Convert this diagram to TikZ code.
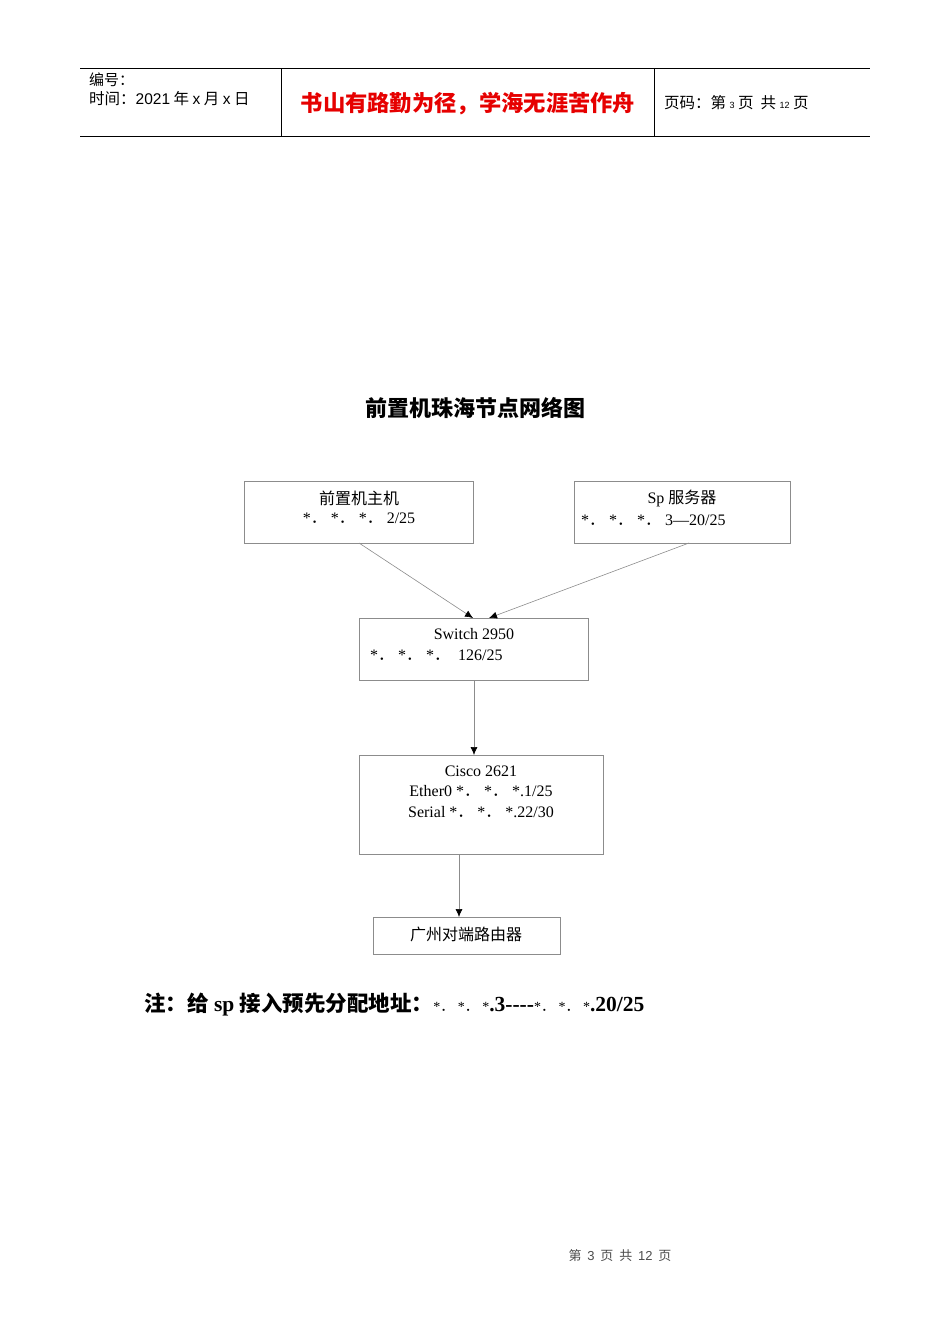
\documentclass[tikz,border=0pt]{standalone}
\usepackage{fontspec}
\usetikzlibrary{arrows.meta}
\setmainfont{Liberation Serif}
\newfontfamily\cjk{Noto Sans CJK SC}
\newfontfamily\hsans{Liberation Sans}
\newcommand{\fdot}{{\cjk ．}}
\begin{document}
\begin{tikzpicture}[x=1pt,y=-1pt,
  bx/.style={draw=black!45,line width=0.6pt},
  ar/.style={draw=black!45,line width=0.6pt,-{Latex[length=8pt,width=7pt,black]}},
  t/.style={inner sep=0pt,font=\fontsize{16}{18}\selectfont}]
\useasboundingbox[fill=white] (0,0) rectangle (950,1344);
% header
\draw[line width=0.6pt] (80,68) -- (870,68) (80,136) -- (870,136) (281,68) -- (281,136) (654,68) -- (654,136);
\node[t,anchor=west,font=\cjk\fontsize{15}{17}\selectfont] (h1) at (89,80) {编号：};
\node[t,anchor=west,font=\cjk\fontsize{15.5}{17}\selectfont] (h2) at (89,99) {时间：{\hsans 2021} 年 {\hsans x} 月 {\hsans x} 日};
\node[t,font=\cjk\bfseries\fontsize{22.3}{24}\selectfont,text={rgb,255:red,230;green,0;blue,0}] (h3) at (468,104) {书山有路勤为径，学海无涯苦作舟};
\node[t,anchor=west,font=\cjk\fontsize{15.5}{17}\selectfont] (h4) at (664,103) {页码：第 {\hsans\small 3} 页\ \ 共 {\hsans\small 12} 页};
% title
\node[t,font=\cjk\bfseries\fontsize{22}{24}\selectfont] (title) at (475,408) {前置机珠海节点网络图};
% boxes
\draw[bx] (244,481) rectangle (473,543);
\node[t] (b1a) at (359,498) {\cjk 前置机主机};
\node[t] (b1b) at (359,518) {*\fdot\ *\fdot\ *\fdot\ 2/25};
\draw[bx] (574,481) rectangle (790,543);
\node[t] (b2a) at (682,498) {Sp {\cjk 服务器}};
\node[t,anchor=west] (b2b) at (581,520) {*\fdot\ *\fdot\ *\fdot\ 3—20/25};
\draw[bx] (359,618) rectangle (588,680);
\node[t] (s1) at (474,634) {Switch 2950};
\node[t,anchor=west] (s2) at (370,655) {*\fdot\ *\fdot\ *\fdot\ \ 126/25};
\draw[bx] (359,755) rectangle (603,854);
\node[t] (c1) at (481,771) {Cisco 2621};
\node[t] (c2) at (481,791) {Ether0 *\fdot\ *\fdot\ *.1/25};
\node[t] (c3) at (481,812) {Serial *\fdot\ *\fdot\ *.22/30};
\draw[bx] (373,917) rectangle (560,954);
\node[t] (g) at (466,934) {\cjk 广州对端路由器};
\coordinate (a1) at (359,543); \coordinate (a2) at (473,618);
\coordinate (b1) at (689,543); \coordinate (b2) at (489,618);
\coordinate (c1s) at (474,680); \coordinate (c1e) at (474,755);
\coordinate (d1) at (459,854); \coordinate (d2) at (459,917);
\draw[ar] (a1) -- (a2);
\draw[ar] (b1) -- (b2);
\draw[ar] (c1s) -- (c1e);
\draw[ar] (d1) -- (d2);
% note
\node[t,anchor=west,font=\bfseries\fontsize{21.5}{23}\selectfont] (note) at (144,1005) {{\cjk 注：给} sp {\cjk 接入预先分配地址：}{\mdseries\fontsize{14}{16}\selectfont *\fdot\ *\fdot\ *}.3-{}-{}-{}-{\mdseries\fontsize{14}{16}\selectfont *\fdot\ *\fdot\ *}.20/25};
% footer
\node[t,font=\cjk\fontsize{13}{15}\selectfont,text=black!70] (foot) at (620,1256) {第\ \ {\hsans 3}\ \ 页\ \ 共\ \ {\hsans 12}\ \ 页};
\end{tikzpicture}
\end{document}
